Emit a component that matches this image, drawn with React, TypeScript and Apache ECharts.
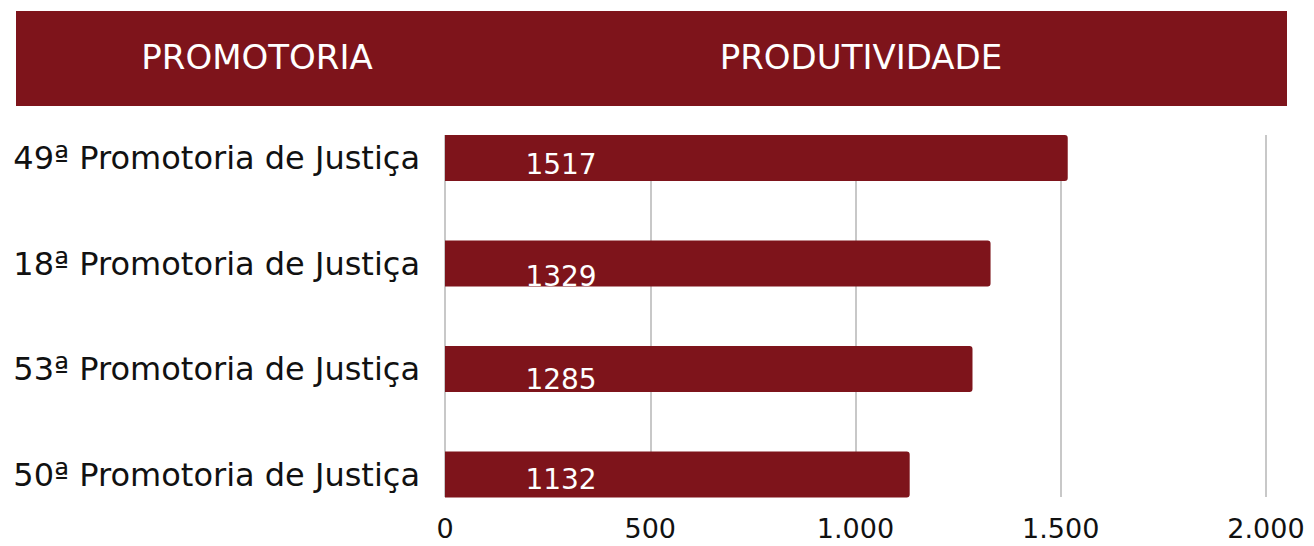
import React, { useEffect, useRef } from "react";
import * as echarts from "echarts";

const categories = [
  "49ª Promotoria de Justiça",
  "18ª Promotoria de Justiça",
  "53ª Promotoria de Justiça",
  "50ª Promotoria de Justiça",
];
const values = [1517, 1329, 1285, 1132];
const headerLabels = ["PROMOTORIA", "PRODUTIVIDADE"];
const xTicks = [0, 500, 1000, 1500, 2000];

const RED = "#7e141b";
const FONT = "DejaVu Sans";
// vertical nudge of each value label (styling)
const labelShift = [6, 13, 10, 5];

export default function App() {
  const ref = useRef<HTMLDivElement>(null);
  useEffect(() => {
    if (!ref.current) return;
    const chart = echarts.init(ref.current, null, { renderer: "svg" });
    const fmt = (v: number) => v.toLocaleString("de-DE");
    chart.setOption({
      animation: false,
      backgroundColor: "#ffffff",
      grid: [
        { left: 445, right: 48, top: 105.25, bottom: 18.75 },
        { left: 445, right: 48, top: 135, bottom: 49 },
      ],
      xAxis: [
        { type: "value", gridIndex: 0, min: 0, max: 2000, interval: 500, show: false },
        {
          type: "value",
          gridIndex: 1,
          min: xTicks[0],
          max: xTicks[xTicks.length - 1],
          interval: 500,
          axisLine: { show: false },
          axisTick: { show: false },
          splitLine: { show: true, lineStyle: { color: "#c8c8c8", width: 2 } },
          axisLabel: {
            margin: 18,
            fontSize: 27,
            lineHeight: 27,
            color: "#111",
            fontFamily: FONT,
            formatter: (v: number) => fmt(v),
          },
        },
      ],
      yAxis: [
        {
          type: "category",
          gridIndex: 0,
          inverse: true,
          data: categories,
          axisLine: { show: false },
          axisTick: { show: false },
          splitLine: { show: false },
          axisLabel: {
            margin: 25,
            fontSize: 32,
            color: "#111",
            fontFamily: FONT,
          },
        },
        { type: "value", gridIndex: 1, show: false, min: 0, max: 1 },
      ],
      graphic: [
        {
          type: "rect",
          shape: { x: 16, y: 11, width: 1271, height: 95 },
          style: { fill: RED },
          z: 10,
        },
        {
          type: "text",
          x: 257,
          y: 57,
          style: {
            text: headerLabels[0],
            fill: "#ffffff",
            font: `34px "${FONT}"`,
            align: "center",
            verticalAlign: "middle",
          },
          z: 11,
        },
        {
          type: "text",
          x: 861,
          y: 57,
          style: {
            text: headerLabels[1],
            fill: "#ffffff",
            font: `34px "${FONT}"`,
            align: "center",
            verticalAlign: "middle",
          },
          z: 11,
        },
      ],
      series: [
        {
          type: "bar",
          xAxisIndex: 0,
          yAxisIndex: 0,
          barWidth: 46,
          itemStyle: { color: RED, borderRadius: [0, 3, 3, 0] },
          data: values.map((v, i) => ({
            value: v,
            label: { position: [116, 23 + labelShift[i]] },
          })),
          label: {
            show: true,
            color: "#ffffff",
            fontSize: 28,
            fontFamily: FONT,
            align: "center",
            verticalAlign: "middle",
          },
        },
        { type: "scatter", xAxisIndex: 1, yAxisIndex: 1, data: [] },
      ],
    });
    return () => chart.dispose();
  }, []);
  return (
    <div
      ref={ref}
      style={{ position: "fixed", left: 0, top: 0, width: 1314, height: 546 }}
    />
  );
}
